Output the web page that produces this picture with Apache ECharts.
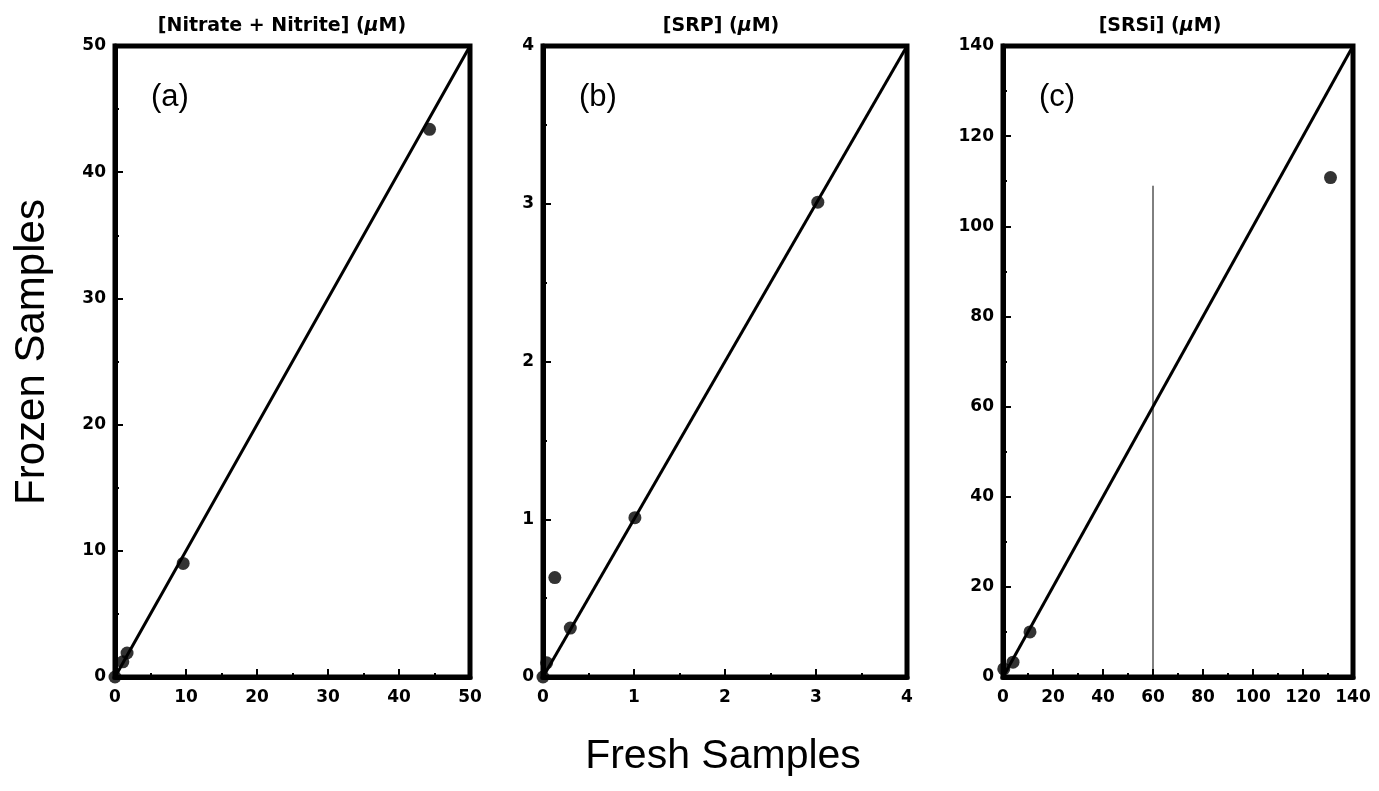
<!DOCTYPE html>
<html><head><meta charset="utf-8">
<script src="https://cdn.jsdelivr.net/npm/echarts@6/dist/echarts.min.js"></script>
<style>html,body{margin:0;padding:0;background:#fff}#c{width:1379px;height:791px}</style>
</head><body><div id="c"></div>
<script>
// Panel (a) Nitrate + Nitrite
const nitrateFresh  = [0, 1.1, 1.7, 9.6, 44.3];
const nitrateFrozen = [0, 1.2, 1.9, 9.0, 43.4];
// Panel (b) SRP
const srpFresh  = [0, 0.04, 0.13, 0.3, 1.01, 3.02];
const srpFrozen = [0, 0.09, 0.63, 0.31, 1.01, 3.01];
// Panel (c) SRSi
const srsiFresh  = [0.3, 4, 10.8, 131];
const srsiFrozen = [1.8, 3.3, 10, 110.8];
// axis ranges
const axisMax = [50, 4, 140];
const axisInterval = [10, 1, 20];
const titles = ['[Nitrate + Nitrite] (', '[SRP] (', '[SRSi] ('];
const panelLabels = ['(a)', '(b)', '(c)'];
// thin vertical reference line in panel (c)
const refLineX = [60, 60];
const refLineY = [0, 109];

const FONT = 'Liberation Sans, Arial, Helvetica, sans-serif';
const BFONT = 'DejaVu Sans, Liberation Sans, sans-serif';
const grids = [
  {left: 115, top: 46, width: 355, height: 631},
  {left: 543, top: 46, width: 364, height: 631},
  {left: 1003, top: 46, width: 350, height: 631}
];
const titleCenters = [277, 716, 1155];
function axisCommon(i, isX) {
  return {
    type: 'value', gridIndex: i, min: 0, max: axisMax[i], interval: axisInterval[i],
    axisLine: {show: true, onZero: false, lineStyle: {color: '#000', width: 5}},
    axisTick: {show: true, inside: true, length: 8, lineStyle: {color: '#000', width: 2}},
    minorTick: {show: true, splitNumber: 2, length: 4, lineStyle: {color: '#000', width: 2}},
    splitLine: {show: false},
    axisLabel: {color: '#000', fontFamily: BFONT, fontWeight: 'bold', fontSize: 17, margin: isX ? 12 : 9}
  };
}
const pairs = [[nitrateFresh, nitrateFrozen], [srpFresh, srpFrozen], [srsiFresh, srsiFrozen]];
const series = [];
pairs.forEach((p, i) => {
  series.push({type: 'line', xAxisIndex: i, yAxisIndex: i, showSymbol: false, silent: true,
    lineStyle: {color: '#000', width: 3}, data: [[0, 0], [axisMax[i], axisMax[i]]], z: 2});
  series.push({type: 'scatter', xAxisIndex: i, yAxisIndex: i, symbol: 'circle', symbolSize: 13,
    itemStyle: {color: '#000'}, data: p[0].map((x, k) => [x, p[1][k]]), z: 3});
});
series.push({type: 'line', xAxisIndex: 2, yAxisIndex: 2, showSymbol: false, silent: true,
  lineStyle: {color: '#000', width: 1}, data: refLineX.map((x, k) => [x, refLineY[k]]), z: 1});

const option = {
  animation: false,
  backgroundColor: '#fff',
  grid: grids.map(g => Object.assign({show: true, borderColor: '#000', borderWidth: 5, backgroundColor: 'transparent'}, g)),
  xAxis: [0, 1, 2].map(i => axisCommon(i, true)),
  yAxis: [0, 1, 2].map(i => axisCommon(i, false)),
  title: [0, 1, 2].map(i => ({
    text: '{t|' + titles[i] + '}{i|\u03bc}{t|M)}',
    left: titleCenters[i], top: 12, textAlign: 'center',
    textStyle: {rich: {
      t: {fontFamily: BFONT, fontWeight: 'bold', fontSize: 19, color: '#000'},
      i: {fontFamily: BFONT, fontWeight: 'bold', fontStyle: 'italic', fontSize: 19, color: '#000'}
    }}
  })),
  graphic: [
    ...[0, 1, 2].map(i => ({type: 'text', left: grids[i].left + 36, top: 82,
      style: {text: panelLabels[i], font: '31px ' + FONT, fill: '#000'}})),
    {type: 'text', x: 32, y: 352, rotation: Math.PI / 2,
      style: {text: 'Frozen Samples', font: '42px ' + FONT, fill: '#000', textAlign: 'center', textVerticalAlign: 'middle'}},
    {type: 'text', x: 723, y: 757,
      style: {text: 'Fresh Samples', font: '41px ' + FONT, fill: '#000', textAlign: 'center', textVerticalAlign: 'middle'}}
  ],
  series: series
};
echarts.init(document.getElementById('c'), null, {renderer: 'canvas'}).setOption(option);
</script>
</body></html>
